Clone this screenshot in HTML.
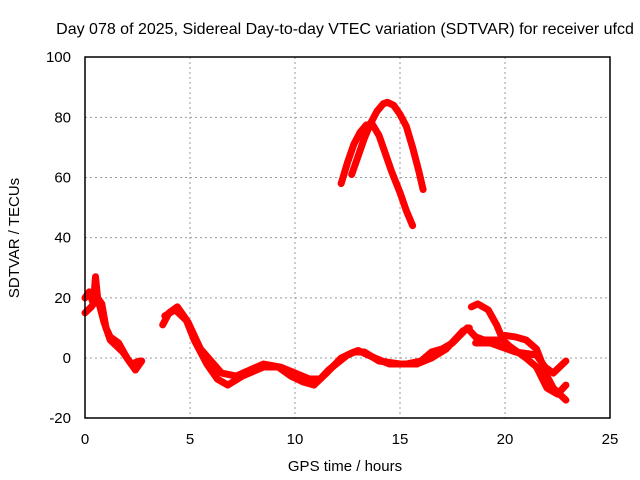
<!DOCTYPE html>
<html><head><meta charset="utf-8"><style>
body{margin:0;background:#fff}
svg{display:block;font-family:"Liberation Sans",sans-serif}
</style></head><body>
<svg id="chart" width="640" height="480" viewBox="0 0 640 480">
<text x="345" y="34" font-size="16" text-anchor="middle">Day 078 of 2025, Sidereal Day-to-day VTEC variation (SDTVAR) for receiver ufcd</text>
<text x="345" y="471" font-size="15" text-anchor="middle">GPS time / hours</text>
<text transform="translate(19,238) rotate(-90)" font-size="15" text-anchor="middle">SDTVAR / TECUs</text>
<g id="grid"></g><g id="ticks"></g><g id="series"></g>
<rect x="85" y="57" width="525" height="361" fill="none" stroke="#000" stroke-width="1.5"/>
</svg>
<script>
const xTicks=[0,5,10,15,20,25];
const yTicks=[-20,0,20,40,60,80,100];
const trace1=[[0,20],[0.2,22],[0.4,18],[0.5,27],[0.6,20],[0.8,18],[1.0,10],[1.2,7],[1.6,5],[2.0,0],[2.4,-4],[2.7,-1]];
const trace2=[[0,15],[0.3,17],[0.6,20],[0.9,12],[1.2,6],[1.8,2],[2.2,-2],[2.6,-1]];
const trace3=[[3.7,11],[4.0,15],[4.4,17],[4.8,13],[5.2,6],[5.8,-2],[6.3,-7],[6.8,-9],[7.5,-6],[8.5,-3],[9.2,-3],[9.8,-6],[10.4,-8],[10.9,-9],[11.5,-5],[12.2,0],[12.8,2],[13.3,2],[14,-1],[15,-2],[15.8,-2],[16.5,0],[17.2,3],[18,9],[18.3,10]];
const trace4=[[3.8,14],[4.3,16],[4.9,12],[5.5,3],[6.5,-5],[7.2,-6],[8.5,-2],[9.3,-3],[10,-5],[10.7,-7],[11.2,-7],[11.6,-4],[12.5,1],[13,2.5],[13.8,0],[14.5,-2],[15.3,-2],[16,-1],[16.5,2],[17,3],[17.5,5],[18.2,10],[18.6,7],[19,6],[19.7,6],[20,7.5],[20.5,7],[21,6],[21.5,3],[22,-6],[22.3,-10],[22.6,-12],[22.9,-14]];
const trace5=[[18.4,17],[18.7,18],[19.2,16],[19.6,11],[19.9,6],[20.2,4],[21,0],[21.5,-3],[22,-10],[22.5,-12],[22.9,-9]];
const trace6=[[18.6,5],[19.3,5],[20.5,2],[21.5,1],[21.9,-3],[22.3,-5],[22.9,-1]];
const trace7=[[12.2,58],[12.5,65],[12.8,71],[13.1,75],[13.4,77.5],[13.7,77.5],[14.0,74],[14.3,68],[14.6,62],[15.0,55],[15.3,49],[15.6,44]];
const trace8=[[12.7,61],[13.0,67],[13.3,73],[13.6,78],[13.9,82],[14.2,84.5],[14.4,85],[14.7,84],[15.0,81],[15.3,77],[15.6,70],[15.9,62],[16.1,56]];
const traces=[trace1,trace2,trace3,trace4,trace5,trace6,trace7,trace8];
const X=v=>85+v*21, Y=v=>358-v*3.008;
const NS="http://www.w3.org/2000/svg";
const g=document.getElementById('grid'),t=document.getElementById('ticks'),s=document.getElementById('series');
function mk(tag,attrs,parent){const e=document.createElementNS(NS,tag);for(const k in attrs)e.setAttribute(k,attrs[k]);parent.appendChild(e);return e;}
xTicks.forEach(v=>{
 if(v>0&&v<25){const l=mk('line',{x1:X(v),x2:X(v),y1:57,y2:418,stroke:'#999','stroke-dasharray':'2,3'},g);
 
 }
 const tx=mk('text',{x:X(v),y:444,'font-size':15,'text-anchor':'middle'},t);tx.textContent=v;
 
 
});
yTicks.forEach(v=>{
 if(v>-20&&v<100){const l=mk('line',{x1:85,x2:610,y1:Y(v),y2:Y(v),stroke:'#999','stroke-dasharray':'2,3'},g);
 
 }
 const tx=mk('text',{x:71,y:Y(v)+5,'font-size':15,'text-anchor':'end'},t);tx.textContent=v;
 
 
});
traces.forEach((tr,i)=>{
 const p=mk('polyline',{points:tr.map(d=>X(d[0])+','+Y(d[1])).join(' '),fill:'none',stroke:'#f00','stroke-width':7,'stroke-linejoin':'round','stroke-linecap':'round'},s);
 
 
});
</script>
</body></html>
